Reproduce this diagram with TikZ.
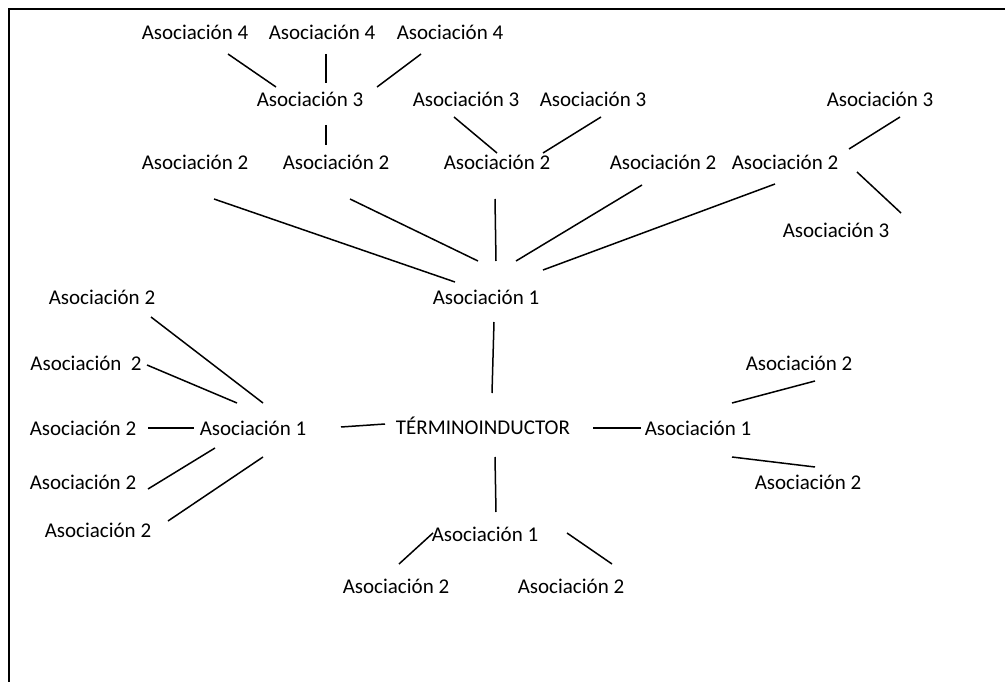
\documentclass[tikz,border=0pt]{standalone}
\usepackage{fontspec}
\setmainfont{Carlito}
\usetikzlibrary{calc}
\begin{document}
\begin{tikzpicture}[x=1pt,y=-1pt,
  lbl/.style={inner sep=0pt,text height=14pt,text depth=0pt,font=\fontsize{21}{25}\selectfont},
  conn/.style={line width=1.5pt},
  frame/.style={line width=2pt}]
\useasboundingbox (0,0) rectangle (1005,682);
\draw[frame] (9,682) -- (9,9) -- (1005,9);
% top
\node[lbl] (t41) at (195,33) {Asociación 4};
\node[lbl] (t42) at (322,33) {Asociación 4};
\node[lbl] (t43) at (450,33) {Asociación 4};
\node[lbl] (t31) at (310,100) {Asociación 3};
\node[lbl] (t32) at (466,100) {Asociación 3};
\node[lbl] (t33) at (593,100) {Asociación 3};
\node[lbl] (t34) at (880,100) {Asociación 3};
\node[lbl] (t35) at (836,230) {Asociación 3};
\node[lbl] (t21) at (195,163) {Asociación 2};
\node[lbl] (t22) at (336,163) {Asociación 2};
\node[lbl] (t23) at (497,163) {Asociación 2};
\node[lbl] (t24) at (663,163) {Asociación 2};
\node[lbl] (t25) at (785,163) {Asociación 2};
\node[lbl] (a1t) at (486,297) {Asociación 1};
% left
\node[lbl] (l1) at (102,297) {Asociación 2};
\node[lbl] (l2) at (86,363) {Asociación\ \ 2};
\node[lbl] (l3) at (83,428) {Asociación 2};
\node[lbl] (l4) at (83,482) {Asociación 2};
\node[lbl] (l5) at (98,530) {Asociación 2};
\node[lbl] (a1l) at (253,428) {Asociación 1};
% centre
\node[lbl] (term) at (483,427) {TÉRMINOINDUCTOR};
% right
\node[lbl] (a1r) at (698,428) {Asociación 1};
\node[lbl] (r1) at (799,363) {Asociación 2};
\node[lbl] (r2) at (808,482) {Asociación 2};
% bottom
\node[lbl] (a1b) at (485,534) {Asociación 1};
\node[lbl] (b1) at (396,586) {Asociación 2};
\node[lbl] (b2) at (571,586) {Asociación 2};
% connectors top
\draw[conn] ($(t41)+(33,21)$) -- ($(t31)+(-34,-13)$);
\draw[conn] ($(t42)+(4,21)$) -- ($(t31)+(16,-17)$);
\draw[conn] ($(t43)+(-29,21)$) -- ($(t31)+(67,-13)$);
\draw[conn] ($(t31)+(16,25)$) -- ($(t22)+(-10,-18)$);
\draw[conn] ($(t32)+(-12,17)$) -- ($(t23)+(0,-10)$);
\draw[conn] ($(t33)+(8,17)$) -- ($(t23)+(46,-10)$);
\draw[conn] ($(t34)+(20,17)$) -- ($(t25)+(64,-14)$);
\draw[conn] ($(t25)+(72,9)$) -- ($(t35)+(65,-17)$);
\draw[conn] ($(t21)+(19,36)$) -- ($(a1t)+(-31,-15)$);
\draw[conn] ($(t22)+(14,36)$) -- ($(a1t)+(-8,-36)$);
\draw[conn] ($(t23)+(-2,36)$) -- ($(a1t)+(10,-36)$);
\draw[conn] ($(t24)+(-21,22)$) -- ($(a1t)+(30,-36)$);
\draw[conn] ($(t25)+(-10,21)$) -- ($(a1t)+(57,-27)$);
\draw[conn] ($(a1t)+(8,25)$) -- ($(term)+(9,-34)$);
% connectors left
\draw[conn] ($(l1)+(49,20)$) -- ($(a1l)+(10,-25)$);
\draw[conn] ($(l2)+(61,2)$) -- ($(a1l)+(-16,-25)$);
\draw[conn] ($(l3)+(65,0)$) -- ($(a1l)+(-59,0)$);
\draw[conn] ($(l4)+(65,7)$) -- ($(a1l)+(-38,20)$);
\draw[conn] ($(l5)+(70,-9)$) -- ($(a1l)+(10,29)$);
\draw[conn] ($(a1l)+(88,-1)$) -- ($(term)+(-98,-3)$);
% connectors right and bottom
\draw[conn] ($(term)+(110,1)$) -- ($(a1r)+(-57,0)$);
\draw[conn] ($(term)+(12,30)$) -- ($(a1b)+(11,-22)$);
\draw[conn] ($(a1r)+(34,-25)$) -- ($(r1)+(16,18)$);
\draw[conn] ($(a1r)+(34,29)$) -- ($(r2)+(7,-15)$);
\draw[conn] ($(a1b)+(-52,-1)$) -- ($(b1)+(3,-22)$);
\draw[conn] ($(a1b)+(82,-1)$) -- ($(b2)+(41,-22)$);
\end{tikzpicture}
\end{document}
